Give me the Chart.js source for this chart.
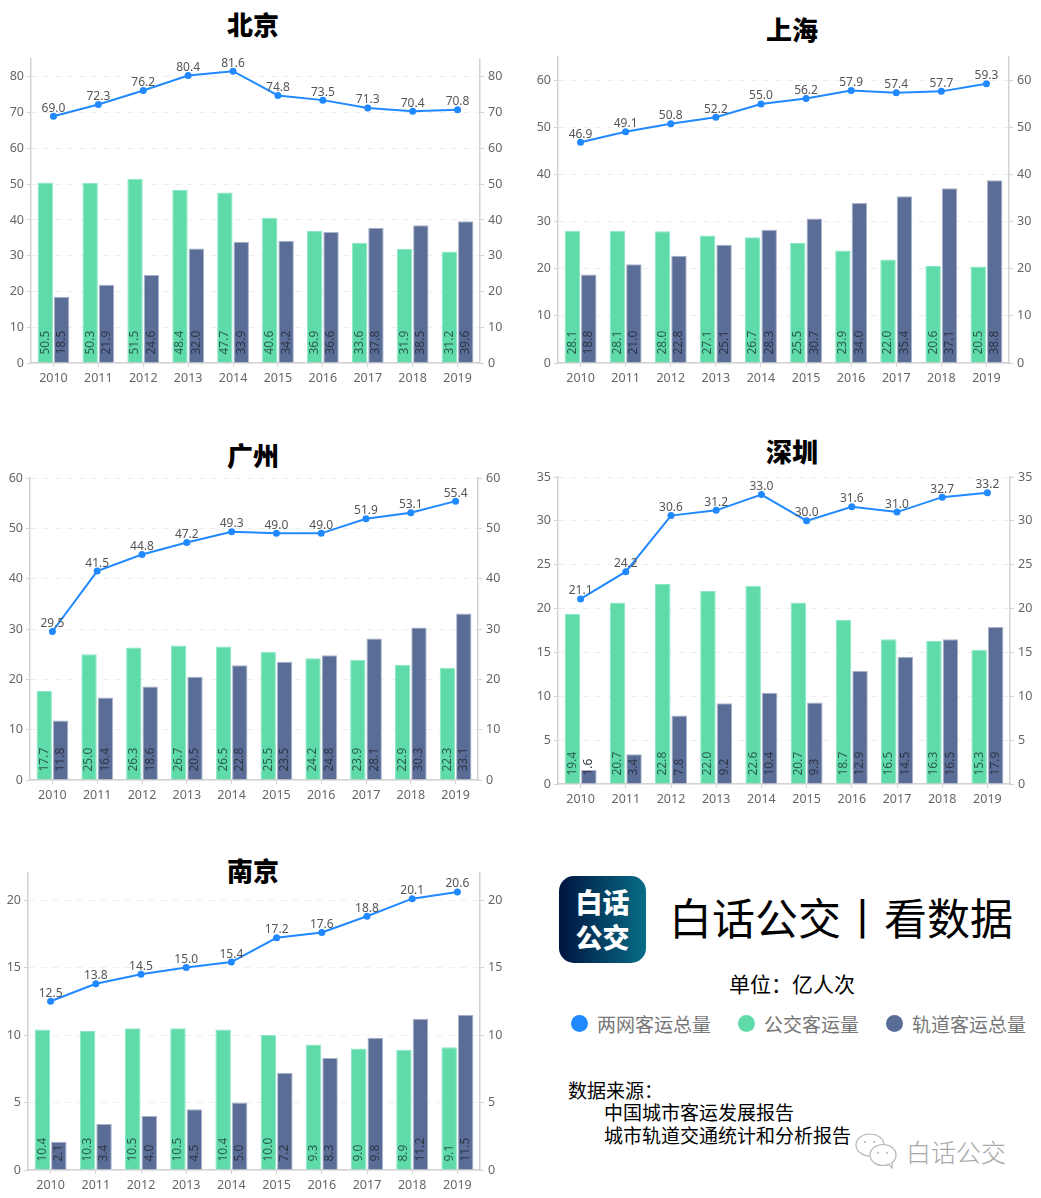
<!DOCTYPE html>
<html lang="zh">
<head>
<meta charset="utf-8">
<title>白话公交 | 看数据</title>
<style>
  html, body { margin: 0; padding: 0; background: #fff; }
  body { position: relative; width: 1041px; height: 1198px; overflow: hidden; font-family: "Noto Sans CJK SC", "Noto Sans", sans-serif; }
  canvas { position: absolute; display: block; }
  .city { position: absolute; width: 120px; margin-left: -60px; text-align: center; font-size: 26px; line-height: 32px; font-weight: 900; color: #000; }
  .abs { position: absolute; white-space: nowrap; }
  .logo { left: 559px; top: 876px; width: 87px; height: 87px; border-radius: 15px; background: linear-gradient(90deg, #00143f, #076d88); color: #fff; font-weight: 900; font-size: 27px; line-height: 35px; text-align: center; padding-top: 8px; box-sizing: border-box; }
  .brand { left: 669px; top: 886px; font-size: 43px; line-height: 60px; color: #000; }
  .unit { left: 729px; top: 968px; font-size: 21px; line-height: 30px; color: #000; }
  .dot { width: 17px; height: 17px; border-radius: 50%; top: 1015px; }
  .key { top: 1010px; font-size: 19px; line-height: 28px; color: #777; }
  .src { font-size: 19px; line-height: 24px; color: #000; }
  .mark { left: 906px; top: 1133px; font-size: 25px; line-height: 36px; font-weight: 300; color: #a8a8a8; }
</style>
</head>
<body>
<div class="city" style="left:253px;top:8px">北京</div>
<div class="city" style="left:792px;top:13px">上海</div>
<div class="city" style="left:253px;top:439px">广州</div>
<div class="city" style="left:792px;top:435px">深圳</div>
<div class="city" style="left:253px;top:854px">南京</div>

<canvas id="bj"></canvas>
<canvas id="sh"></canvas>
<canvas id="gz"></canvas>
<canvas id="sz"></canvas>
<canvas id="nj"></canvas>

<div class="abs logo">白话<br>公交</div>
<div class="abs brand">白话公交丨看数据</div>
<div class="abs unit">单位&#xFF1A;亿人次</div>

<div class="abs dot" style="left:571px;background:#2089ff"></div>
<div class="abs key" style="left:597px">两网客运总量</div>
<div class="abs dot" style="left:738px;background:#5fdaa9"></div>
<div class="abs key" style="left:764px">公交客运量</div>
<div class="abs dot" style="left:886px;background:#5a6d97"></div>
<div class="abs key" style="left:912px">轨道客运总量</div>

<div class="abs src" style="left:568px;top:1078px">数据来源&#xFF1A;</div>
<div class="abs src" style="left:604px;top:1100px">中国城市客运发展报告</div>
<div class="abs src" style="left:604px;top:1123px">城市轨道交通统计和分析报告</div>

<svg class="abs" style="left:855px;top:1133px" width="44" height="36" viewBox="0 0 44 36" fill="#fff" stroke="#b5b5b5" stroke-width="1.2">
  <ellipse cx="15" cy="12" rx="14" ry="11"/>
  <ellipse cx="28" cy="22" rx="13" ry="10.5"/>
  <path d="M34 31 L37 35 L37 29" />
  <circle cx="10" cy="9" r="1" fill="#b5b5b5" stroke="none"/>
  <circle cx="19" cy="9" r="1" fill="#b5b5b5" stroke="none"/>
  <circle cx="23" cy="20" r="1" fill="#b5b5b5" stroke="none"/>
  <circle cx="32" cy="20" r="1" fill="#b5b5b5" stroke="none"/>
</svg>
<div class="abs mark">白话公交</div>

<script src="https://cdn.jsdelivr.net/npm/chart.js@4/dist/chart.umd.min.js"></script>
<script>
// ── Data (亿人次) ───────────────────────────────────
const years = ['2010', '2011', '2012', '2013', '2014', '2015', '2016', '2017', '2018', '2019'];

const bjTotal = [69.0, 72.3, 76.2, 80.4, 81.6, 74.8, 73.5, 71.3, 70.4, 70.8];
const bjBus = [50.5, 50.3, 51.5, 48.4, 47.7, 40.6, 36.9, 33.6, 31.9, 31.2];
const bjRail = [18.5, 21.9, 24.6, 32.0, 33.9, 34.2, 36.6, 37.8, 38.5, 39.6];

const shTotal = [46.9, 49.1, 50.8, 52.2, 55.0, 56.2, 57.9, 57.4, 57.7, 59.3];
const shBus = [28.1, 28.1, 28.0, 27.1, 26.7, 25.5, 23.9, 22.0, 20.6, 20.5];
const shRail = [18.8, 21.0, 22.8, 25.1, 28.3, 30.7, 34.0, 35.4, 37.1, 38.8];

const gzTotal = [29.5, 41.5, 44.8, 47.2, 49.3, 49.0, 49.0, 51.9, 53.1, 55.4];
const gzBus = [17.7, 25.0, 26.3, 26.7, 26.5, 25.5, 24.2, 23.9, 22.9, 22.3];
const gzRail = [11.8, 16.4, 18.6, 20.5, 22.8, 23.5, 24.8, 28.1, 30.3, 33.1];

const szTotal = [21.1, 24.2, 30.6, 31.2, 33.0, 30.0, 31.6, 31.0, 32.7, 33.2];
const szBus = [19.4, 20.7, 22.8, 22.0, 22.6, 20.7, 18.7, 16.5, 16.3, 15.3];
const szRail = [1.6, 3.4, 7.8, 9.2, 10.4, 9.3, 12.9, 14.5, 16.5, 17.9];

const njTotal = [12.5, 13.8, 14.5, 15.0, 15.4, 17.2, 17.6, 18.8, 20.1, 20.6];
const njBus = [10.4, 10.3, 10.5, 10.5, 10.4, 10.0, 9.3, 9.0, 8.9, 9.1];
const njRail = [2.1, 3.4, 4.0, 4.5, 5.0, 7.2, 8.3, 9.8, 11.2, 11.5];

// ── Styling ─────────────────────────────────────────
const TICK_FONT = { family: '"Noto Sans", sans-serif', size: 12.5 };
const TICK_COLOR = '#666666';
const AXIS_COLOR = '#d2d2d2';
const GRID_COLOR = '#eeeeee';
const MARGIN = { left: 27, right: 40, top: 14, bottom: 30 };

// Value labels: above the line points, rotated at the foot of each bar
const valueLabels = {
  id: 'valueLabels',
  afterDatasetsDraw(chart) {
    const { ctx } = chart;
    const base = chart.scales.y.getPixelForValue(0);
    chart.data.datasets.forEach((ds, i) => {
      const meta = chart.getDatasetMeta(i);
      ctx.save();
      ctx.font = '12px "Noto Sans", sans-serif';
      meta.data.forEach((el, j) => {
        const text = ds.data[j].toFixed(1);
        if (ds.type === 'line') {
          ctx.fillStyle = '#555';
          ctx.textAlign = 'center';
          ctx.textBaseline = 'bottom';
          ctx.fillText(text, el.x, el.y - 2);
        } else {
          ctx.save();
          ctx.translate(el.x, base - 8.5);
          ctx.rotate(-Math.PI / 2);
          ctx.fillStyle = ds.labelColor;
          ctx.textAlign = 'left';
          ctx.textBaseline = 'middle';
          ctx.fillText(text, 0, 0);
          ctx.restore();
        }
      });
      ctx.restore();
    });
  },
};

// ── Build one city panel ────────────────────────────
function cityChart(id, box, total, bus, rail, max, step) {
  const canvas = document.getElementById(id);
  const width = box.right - box.left + MARGIN.left + MARGIN.right;
  const height = box.bottom - box.top + MARGIN.top + MARGIN.bottom;
  canvas.width = width;
  canvas.height = height;
  canvas.style.left = `${box.left - MARGIN.left}px`;
  canvas.style.top = `${box.top - MARGIN.top}px`;

  // Top of the axis is not a round number, keep only the step ticks
  const stepOnly = (s) => { s.ticks = s.ticks.filter((t) => t.value % step === 0); };

  return new Chart(canvas, {
    type: 'bar',
    data: {
      labels: years,
      datasets: [
        {
          type: 'line',
          label: '两网客运总量',
          data: total,
          borderColor: '#2089ff',
          backgroundColor: '#2089ff',
          borderWidth: 2,
          tension: 0,
          pointRadius: 3.5,
          pointBorderWidth: 0,
          order: 0,
        },
        {
          label: '公交客运量',
          data: bus,
          backgroundColor: '#5fdaa9',
          borderColor: '#8be8c6',
          borderWidth: 1,
          barPercentage: 0.94,
          categoryPercentage: 0.73,
          labelColor: '#2b5f50',
          order: 1,
        },
        {
          label: '轨道客运总量',
          data: rail,
          backgroundColor: '#5a6d97',
          borderColor: '#a9b4cc',
          borderWidth: 1,
          barPercentage: 0.94,
          categoryPercentage: 0.73,
          labelColor: '#2f3547',
          order: 1,
        },
      ],
    },
    options: {
      responsive: false,
      animation: false,
      layout: { padding: { top: MARGIN.top, left: 0, right: 0, bottom: 0 } },
      plugins: { legend: { display: false }, tooltip: { enabled: false }, title: { display: false } },
      scales: {
        x: {
          afterFit: (s) => { s.height = MARGIN.bottom; },
          ticks: { font: TICK_FONT, color: TICK_COLOR, padding: 4, maxRotation: 0, autoSkip: false },
          grid: { offset: false, drawOnChartArea: false, tickLength: 4, tickColor: AXIS_COLOR },
          border: { color: AXIS_COLOR, width: 1.5 },
        },
        y: {
          position: 'left',
          min: 0,
          max,
          afterBuildTicks: stepOnly,
          afterFit: (s) => { s.width = MARGIN.left; },
          ticks: { font: TICK_FONT, color: TICK_COLOR, stepSize: step, padding: 3, autoSkip: false },
          grid: { color: GRID_COLOR, tickColor: AXIS_COLOR, tickLength: 4, lineWidth: 1 },
          border: { color: AXIS_COLOR, width: 1.5, dash: [6, 6] },
        },
        yRight: {
          position: 'right',
          min: 0,
          max,
          afterBuildTicks: stepOnly,
          afterFit: (s) => { s.width = MARGIN.right; },
          ticks: { font: TICK_FONT, color: TICK_COLOR, stepSize: step, padding: 4, autoSkip: false },
          grid: { drawOnChartArea: false, tickColor: AXIS_COLOR, tickLength: 4 },
          border: { color: AXIS_COLOR, width: 1.5 },
        },
      },
    },
    plugins: [valueLabels],
  });
}

// ── Init ────────────────────────────────────────────
cityChart('bj', { left: 31, right: 480, top: 59, bottom: 363 }, bjTotal, bjBus, bjRail, 85, 10);
cityChart('sh', { left: 558, right: 1009, top: 57, bottom: 363 }, shTotal, shBus, shRail, 65, 10);
cityChart('gz', { left: 30, right: 478, top: 478, bottom: 780 }, gzTotal, gzBus, gzRail, 60, 10);
cityChart('sz', { left: 558, right: 1010, top: 477, bottom: 784 }, szTotal, szBus, szRail, 35, 5);
cityChart('nj', { left: 28, right: 480, top: 873, bottom: 1170 }, njTotal, njBus, njRail, 22, 5);
</script>
</body>
</html>
